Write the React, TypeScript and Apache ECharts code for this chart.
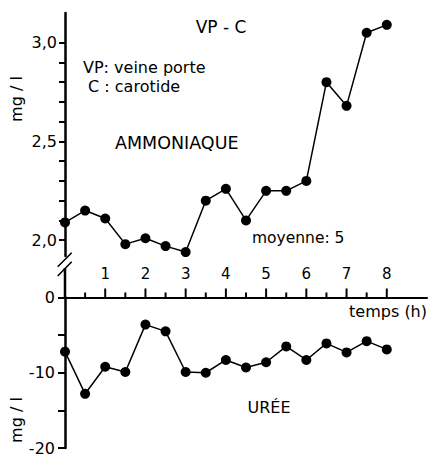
import React, { useEffect, useRef } from "react";
import * as echarts from "echarts";

const hours = [0, 0.5, 1, 1.5, 2, 2.5, 3, 3.5, 4, 4.5, 5, 5.5, 6, 6.5, 7, 7.5, 8];
const ammoniaque = [2.09, 2.15, 2.11, 1.98, 2.01, 1.97, 1.94, 2.2, 2.26, 2.1, 2.25, 2.25, 2.3, 2.8, 2.68, 3.05, 3.09];
const uree = [-7.2, -12.8, -9.2, -9.9, -3.6, -4.5, -9.9, -10.0, -8.3, -9.3, -8.6, -6.5, -8.3, -6.1, -7.3, -5.8, -6.9];
const topTicks = [2.0, 2.1, 2.2, 2.3, 2.4, 2.5, 2.6, 2.7, 2.8, 2.9, 3.0];
const topLabels = [2.0, 2.5, 3.0];
const bottomTicks = [0, -5, -10, -15, -20];
const bottomLabels = [0, -10, -20];
const hourTicks = [1, 2, 3, 4, 5, 6, 7, 8];
const halfTicks = [0.5, 1.5, 2.5, 3.5, 4.5, 5.5, 6.5, 7.5];

const FONT = "DejaVu Sans";

export default function App() {
  const ref = useRef<HTMLDivElement>(null);
  useEffect(() => {
    if (!ref.current) return;
    const chart = echarts.init(ref.current, null, { renderer: "svg" });
    const txt = (text: string, x: number, y: number, size: number, align = "left", rotation = 0) => ({
      type: "text",
      x,
      y,
      rotation,
      z: 100,
      style: {
        text,
        fill: "#000",
        font: `${size}px "${FONT}"`,
        textAlign: align,
        textVerticalAlign: "middle",
      },
    });
    const lineEl = (x1: number, y1: number, x2: number, y2: number, w = 1.6) => ({
      type: "line",
      z: 100,
      shape: { x1, y1, x2, y2 },
      style: { stroke: "#000", lineWidth: w },
    });
    const baseGraphic = [
      txt("VP - C", 221, 27, 17, "center"),
      txt("VP: veine porte", 83, 67, 16),
      txt(" C : carotide", 83, 86, 16),
      txt("AMMONIAQUE", 115, 143, 17.5),
      txt("moyenne: 5", 252, 238, 15.5),
      txt("URÉE", 269, 407, 16, "center"),
      txt("temps (h)", 427, 311, 16, "right"),
      txt("mg / l", 16, 99, 16, "center", Math.PI / 2),
      txt("mg / l", 16, 420, 16, "center", Math.PI / 2),
      lineEl(65, 268, 65, 298, 2.5),
      lineEl(57.7, 266.7, 71.7, 252.7),
      lineEl(57.7, 276, 71.7, 261.7),
    ];
    chart.setOption({
      animation: false,
      backgroundColor: "#fff",
      grid: [
        { left: 65, top: 13, width: 362, height: 243 },
        { left: 65, top: 297.5, width: 362, height: 156 },
      ],
      xAxis: [
        { gridIndex: 0, type: "value", min: 0, max: 9, show: false },
        {
          gridIndex: 1,
          type: "value",
          min: 0,
          max: 9,
          position: "top",
          splitLine: { show: false },
          axisLine: { show: true, onZero: false, lineStyle: { color: "#000", width: 2 } },
          axisTick: { show: false },
          axisLabel: {
            customValues: hourTicks,
            margin: 16,
            color: "#000",
            fontFamily: FONT,
            fontSize: 15,
          },
        },
      ],
      yAxis: [
        {
          gridIndex: 0,
          type: "value",
          min: 1.92,
          max: 3.15,
          splitLine: { show: false },
          axisLine: { show: true, onZero: false, lineStyle: { color: "#000", width: 2.5 } },
          axisTick: { show: true, customValues: topTicks, length: 6, lineStyle: { color: "#000", width: 2 } },
          axisLabel: {
            customValues: topLabels,
            margin: 8,
            color: "#000",
            fontFamily: FONT,
            fontSize: 16,
            formatter: (v: number) => v.toFixed(1).replace(".", ","),
          },
        },
        {
          gridIndex: 1,
          type: "value",
          min: -20,
          max: 0,
          splitLine: { show: false },
          axisLine: { show: true, onZero: false, lineStyle: { color: "#000", width: 2.5 } },
          axisTick: { show: true, customValues: bottomTicks, length: 7, lineStyle: { color: "#000", width: 2 } },
          axisLabel: {
            customValues: bottomLabels,
            margin: 10,
            color: "#000",
            fontFamily: FONT,
            fontSize: 16,
          },
        },
      ],
      series: [
        {
          type: "line",
          xAxisIndex: 0,
          yAxisIndex: 0,
          data: hours.map((h, i) => [h, ammoniaque[i]]),
          symbol: "circle",
          symbolSize: 10,
          itemStyle: { color: "#000" },
          lineStyle: { color: "#000", width: 1.5 },
        },
        {
          type: "line",
          xAxisIndex: 1,
          yAxisIndex: 1,
          data: hours.map((h, i) => [h, uree[i]]),
          symbol: "circle",
          symbolSize: 10,
          itemStyle: { color: "#000" },
          lineStyle: { color: "#000", width: 1.5 },
        },
      ],
      graphic: baseGraphic,
    });
    const tickEls: any[] = [];
    const addTicks = (values: number[], len: number) => {
      values.forEach((v) => {
        const p = chart.convertToPixel({ xAxisIndex: 1, yAxisIndex: 1 } as any, [v, 0]) as number[];
        if (p && isFinite(p[0]) && isFinite(p[1])) {
          tickEls.push(lineEl(p[0], p[1], p[0], p[1] - len, 2));
        }
      });
    };
    addTicks(hourTicks, 9);
    addTicks(halfTicks, 5);
    chart.setOption({ graphic: [...baseGraphic, ...tickEls] }, { replaceMerge: ["graphic"] });
    return () => chart.dispose();
  }, []);
  return (
    <div
      ref={ref}
      style={{ position: "absolute", left: 0, top: 0, width: 430, height: 456 }}
    />
  );
}
